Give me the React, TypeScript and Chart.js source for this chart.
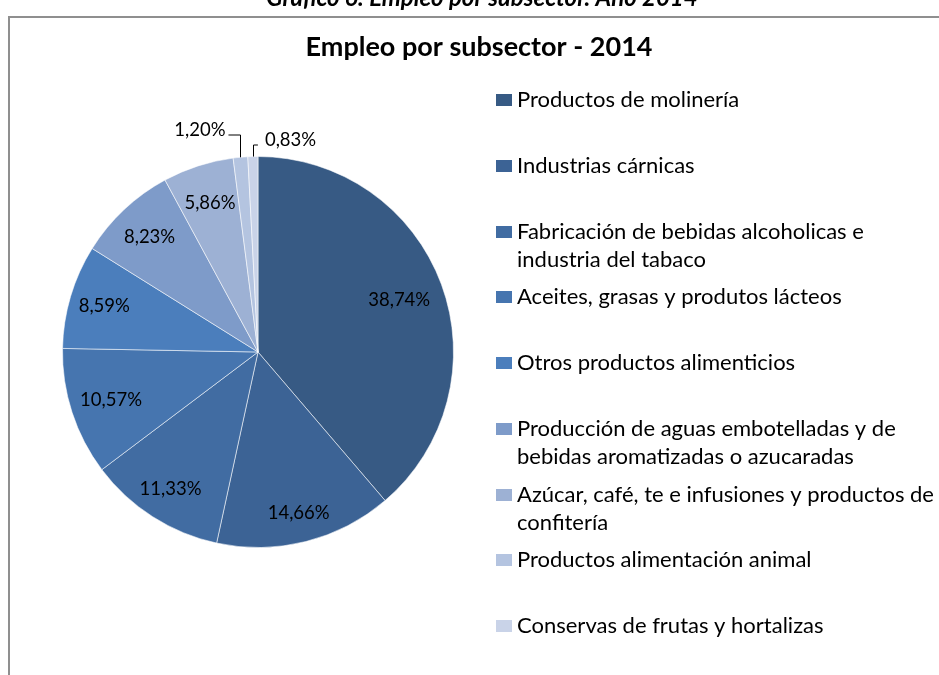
import React, { useEffect, useRef } from "react";
import { Chart, registerables } from "chart.js";

Chart.register(...registerables);

const supTitle = "Gráfico 6: Empleo por subsector. Año 2014";
const chartTitle = "Empleo por subsector - 2014";

const categories: string[][] = [
  ["Productos de molinería"],
  ["Industrias cárnicas"],
  ["Fabricación de bebidas alcoholicas e", "industria del tabaco"],
  ["Aceites, grasas y produtos lácteos"],
  ["Otros productos alimenticios"],
  ["Producción de aguas embotelladas y de", "bebidas aromatizadas o azucaradas"],
  ["Azúcar, café, te e infusiones y productos de", "confitería"],
  ["Productos alimentación animal"],
  ["Conservas de frutas y hortalizas"],
];

const values: number[] = [38.74, 14.66, 11.33, 10.57, 8.59, 8.23, 5.86, 1.2, 0.83];

const colors: string[] = [
  "#375A84",
  "#3C6395",
  "#416CA2",
  "#4675AF",
  "#4B7EBC",
  "#7E9BC9",
  "#9DB1D4",
  "#B4C4E0",
  "#C9D3E8",
];

// style: radial position of inside labels (fraction of radius); null = outside label
const labelRadius: (number | null)[] = [0.77, 0.85, 0.83, 0.79, 0.82, 0.81, 0.8, null, null];

const FONT = "Lato, Carlito, Calibri, 'Open Sans', sans-serif";

const fmt = (v: number) => v.toFixed(2).replace(".", ",") + "%";

const decorPlugin = {
  id: "decor",
  afterDraw(chart: any) {
    const ctx = chart.ctx as CanvasRenderingContext2D;
    const W = chart.width;
    const H = chart.height;
    ctx.save();

    // cropped heading above the frame
    ctx.fillStyle = "#000";
    ctx.font = `italic bold 24px ${FONT}`;
    ctx.textAlign = "center";
    ctx.textBaseline = "alphabetic";
    ctx.fillText(supTitle, 482, 6);

    // frame
    ctx.strokeStyle = "#8f8f8f";
    ctx.lineWidth = 2;
    ctx.beginPath();
    ctx.moveTo(9, H + 2);
    ctx.lineTo(9, 17);
    ctx.lineTo(W + 2, 17);
    ctx.stroke();

    // title
    ctx.font = `bold 27px ${FONT}`;
    ctx.fillStyle = "#000";
    ctx.textAlign = "center";
    ctx.textBaseline = "middle";
    ctx.fillText(chartTitle, 479, 47);

    // slice labels
    const meta = chart.getDatasetMeta(0);
    ctx.font = `18.5px ${FONT}`;
    ctx.fillStyle = "#000";
    meta.data.forEach((arc: any, i: number) => {
      const p = arc.getProps(["x", "y", "startAngle", "endAngle", "outerRadius"], true);
      const mid = (p.startAngle + p.endAngle) / 2;
      const txt = fmt(values[i]);
      const rf = labelRadius[i];
      if (rf != null) {
        ctx.textAlign = "center";
        ctx.textBaseline = "middle";
        ctx.fillText(txt, p.x + Math.cos(mid) * p.outerRadius * rf, p.y + Math.sin(mid) * p.outerRadius * rf);
      } else {
        const ex = p.x + Math.cos(mid) * p.outerRadius;
        const ey = p.y + Math.sin(mid) * p.outerRadius;
        const left = i === values.length - 2;
        const elbowY = p.y - p.outerRadius - (left ? 22 : 12);
        const endX = left ? ex - 12 : ex + 5;
        ctx.strokeStyle = "#000";
        ctx.lineWidth = 1;
        ctx.beginPath();
        ctx.moveTo(Math.round(ex) + 0.5, ey);
        ctx.lineTo(Math.round(ex) + 0.5, elbowY + 0.5);
        ctx.lineTo(endX, elbowY + 0.5);
        ctx.stroke();
        ctx.textBaseline = "middle";
        ctx.textAlign = left ? "right" : "left";
        ctx.fillText(txt, left ? endX - 3 : endX + 7, elbowY - 4);
      }
    });

    // legend
    ctx.font = `22px ${FONT}`;
    ctx.textAlign = "left";
    ctx.textBaseline = "middle";
    const y0 = 100;
    const step = 65.75;
    categories.forEach((lines, i) => {
      const y = y0 + i * step;
      ctx.fillStyle = colors[i];
      ctx.fillRect(496, Math.round(y - 6), 16, 12);
      ctx.fillStyle = "#000";
      lines.forEach((ln, j) => ctx.fillText(ln, 517, y + j * 28));
    });

    ctx.restore();
  },
};

export default function App() {
  const ref = useRef<HTMLCanvasElement | null>(null);
  useEffect(() => {
    if (!ref.current) return;
    const chart = new Chart(ref.current, {
      type: "pie",
      data: {
        labels: categories.map((c) => c.join(" ")),
        datasets: [
          {
            data: values,
            backgroundColor: colors,
            borderColor: "rgba(255,255,255,0.55)",
            borderWidth: 1,
            hoverOffset: 0,
          },
        ],
      },
      options: {
        responsive: false,
        animation: false,
        devicePixelRatio: 1,
        events: [],
        layout: { padding: { left: 62, top: 156, right: 485, bottom: 127 } },
        plugins: {
          legend: { display: false },
          tooltip: { enabled: false },
          title: { display: false },
        },
      },
      plugins: [decorPlugin],
    });
    return () => chart.destroy();
  }, []);
  return (
    <div style={{ position: "fixed", left: 0, top: 0, width: 939, height: 675, background: "#fff" }}>
      <canvas ref={ref} width={939} height={675} style={{ display: "block" }} />
    </div>
  );
}
